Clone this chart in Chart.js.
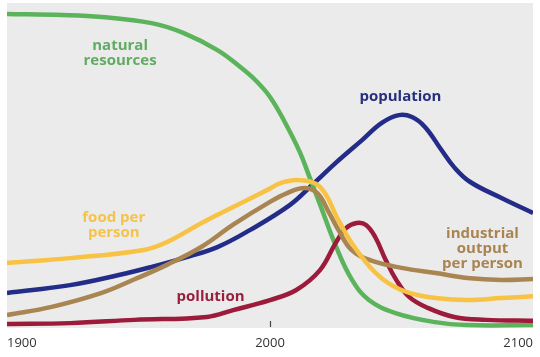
<!DOCTYPE html>
<html>
<head>
<meta charset="utf-8">
<script src="https://cdn.jsdelivr.net/npm/chart.js@4/dist/chart.umd.min.js"></script>
<style>
  html, body { margin: 0; padding: 0; background: #ffffff; }
  #wrap { width: 540px; height: 357px; }
</style>
</head>
<body>
<div id="wrap"><canvas id="c" width="540" height="357"></canvas></div>
<script>
// ---- Data (y is a relative 0–100 index) ----
const tickYears = [1900, 2000, 2100];

const resourcesYears  = [1900, 1921, 1936, 1955, 1967, 1980, 1988.7, 1994.4, 2000, 2005.6, 2011.3, 2015, 2018.8, 2025.2, 2031.2, 2037.6, 2047.7, 2062.8, 2075, 2100];
const resourcesValues = [96.6, 96.3, 95.7, 93.8, 90.8, 85.5, 80.3, 76.3, 71.1, 63.4, 54.2, 46.5, 38.5, 24.9, 14.8, 8.6, 4.6, 1.8, 0.9, 0.9];

const populationYears  = [1900, 1924, 1942.5, 1955, 1967, 1980, 1992.5, 2007.5, 2016, 2025, 2035, 2042.5, 2049, 2054, 2059, 2065, 2070, 2076, 2088, 2100];
const populationValues = [10.8, 13.2, 16.3, 18.8, 21.5, 24.9, 30.2, 37.8, 44.0, 50.8, 57.8, 63.1, 65.5, 64.9, 61.8, 55.0, 49.5, 45.0, 40.0, 35.4];

const foodYears  = [1900, 1924, 1952, 1961, 1974, 1986, 1999, 2004, 2011, 2019, 2026, 2031, 2038, 2045, 2053, 2063, 2075, 2088, 2100];
const foodValues = [20.0, 21.5, 24.0, 26.5, 32.3, 37.2, 42.5, 44.6, 45.5, 43.4, 33.2, 26.2, 18.8, 13.8, 10.8, 9.2, 8.6, 9.2, 9.8];

const industryYears  = [1900, 1917, 1936, 1948.5, 1961, 1974, 1986, 2000, 2006.5, 2013, 2018, 2022.5, 2026, 2031, 2038, 2050, 2063, 2075, 2088, 2100];
const industryValues = [4.0, 6.5, 10.8, 15.0, 19.5, 25.0, 31.8, 38.8, 41.5, 43.1, 41.5, 35.4, 30.2, 24.0, 20.9, 18.5, 16.9, 15.4, 14.8, 15.1];

const pollutionYears  = [1900, 1924, 1948.5, 1976, 1986, 2000, 2010, 2019, 2025, 2029, 2033, 2036.5, 2040, 2044, 2048, 2053, 2060, 2070, 2082, 2100];
const pollutionValues = [1.2, 1.5, 2.5, 3.4, 5.5, 8.6, 11.7, 17.8, 26.2, 30.8, 32.3, 31.7, 28.0, 20.9, 14.8, 9.5, 6.2, 3.4, 2.5, 2.2];

function pts(xs, ys) { return xs.map((x, i) => ({ x: x, y: ys[i] })); }

// ---- Series labels (text placed in data coordinates) ----
const seriesLabels = [
  { lines: ['natural', 'resources'], x: 1943, y: 86.8, color: '#62ac62' },
  { lines: ['population'], x: 2049.6, y: 71.1, color: '#27307c' },
  { lines: ['food per', 'person'], x: 1940.6, y: 33.8, color: '#f5c24a' },
  { lines: ['pollution'], x: 1977.4, y: 9.5, color: '#98203f' },
  { lines: ['industrial', 'output', 'per person'], x: 2080.8, y: 29.0, color: '#a98452' }
];

const bgPlugin = {
  id: 'bg',
  beforeDraw(chart) {
    const a = chart.chartArea, ctx = chart.ctx;
    ctx.save();
    ctx.fillStyle = '#ebebeb';
    ctx.fillRect(a.left, a.top, a.right - a.left, a.bottom - a.top);
    const xs = chart.scales.x;
    const px = Math.round(xs.getPixelForValue(2000)) + 0.5;
    ctx.strokeStyle = '#444';
    ctx.lineWidth = 1.2;
    ctx.beginPath();
    ctx.moveTo(px, a.bottom - 7);
    ctx.lineTo(px, a.bottom - 1);
    ctx.stroke();
    ctx.restore();
  }
};

const labelPlugin = {
  id: 'seriesLabels',
  afterDatasetsDraw(chart) {
    const ctx = chart.ctx, xs = chart.scales.x, ys = chart.scales.y;
    ctx.save();
    ctx.font = 'bold 15px "Open Sans"';
    ctx.textAlign = 'center';
    ctx.textBaseline = 'middle';
    seriesLabels.forEach(l => {
      const px = xs.getPixelForValue(l.x);
      const py = ys.getPixelForValue(l.y);
      ctx.fillStyle = l.color;
      l.lines.forEach((t, i) => ctx.fillText(t, px, py + i * 15));
    });
    ctx.restore();
  }
};

function ds(label, data, color) {
  return {
    label: label, data: data, borderColor: color, backgroundColor: color,
    borderWidth: 4.5, pointRadius: 0, fill: false,
    tension: 0.4, borderCapStyle: 'butt', borderJoinStyle: 'round'
  };
}

new Chart(document.getElementById('c'), {
  type: 'line',
  data: {
    datasets: [
      ds('food per person', pts(foodYears, foodValues), '#f8c244'),
      ds('industrial output per person', pts(industryYears, industryValues), '#a98551'),
      ds('pollution', pts(pollutionYears, pollutionValues), '#9c1a3a'),
      ds('natural resources', pts(resourcesYears, resourcesValues), '#5bb35b'),
      ds('population', pts(populationYears, populationValues), '#232c86')
    ]
  },
  options: {
    responsive: false,
    animation: false,
    layout: { padding: { left: 4, right: 4, top: 3, bottom: 0 } },
    plugins: { legend: { display: false }, tooltip: { enabled: false } },
    scales: {
      x: {
        type: 'linear', min: 1900, max: 2100,
        afterBuildTicks(scale) { scale.ticks = tickYears.map(v => ({ value: v })); },
        afterFit(scale) { scale.height = 29; },
        grid: { display: false, drawTicks: false },
        border: { display: false },
        ticks: {
          align: 'inner', padding: 7, color: '#333333',
          font: { family: '"Open Sans"', size: 13 },
          callback: v => String(v)
        }
      },
      y: { display: false, min: 0, max: 100 }
    }
  },
  plugins: [bgPlugin, labelPlugin]
});
</script>
</body>
</html>
